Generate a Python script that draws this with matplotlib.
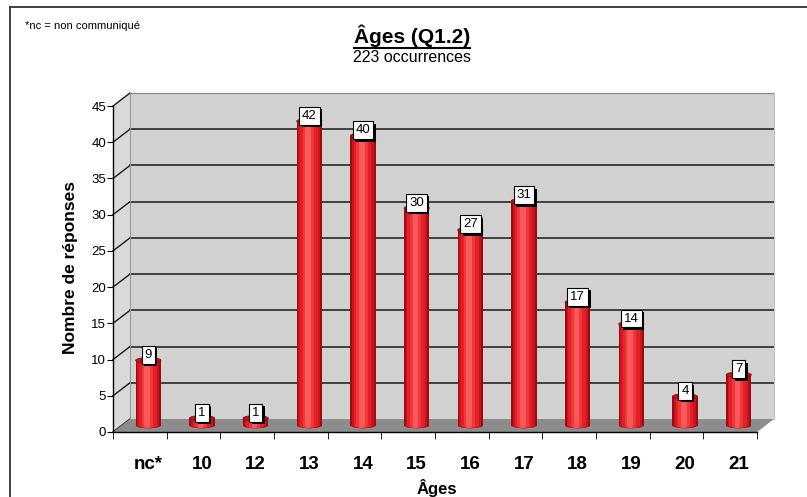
import matplotlib.pyplot as plt
from matplotlib import patheffects as pe
from matplotlib.patches import Rectangle, Ellipse, Polygon
from matplotlib.transforms import ScaledTranslation, IdentityTransform
from matplotlib.lines import Line2D

plt.rcParams['font.family'] = ['Liberation Sans', 'DejaVu Sans']

categories = ['nc*', '10', '12', '13', '14', '15', '16', '17', '18', '19', '20', '21']
counts = [9, 1, 1, 42, 40, 30, 27, 31, 17, 14, 4, 7]
y_ticks = [0, 5, 10, 15, 20, 25, 30, 35, 40, 45]

W, H = 807, 497
fig = plt.figure(figsize=(W / 100, H / 100), dpi=100)
ax = fig.add_axes([113 / W, 65 / H, 644 / W, 326 / H])
ax.set_xlim(-0.5, len(categories) - 0.5)
ax.set_ylim(0, 45)
ax.patch.set_visible(False)

# depth offsets (pixels) for the 3D look
DX, DY = 17, 13
back = ax.transData + ScaledTranslation(DX / 100, DY / 100, fig.dpi_scale_trans)
mid = ax.transData + ScaledTranslation(DX / 200, DY / 200, fig.dpi_scale_trans)

x0, x1 = -0.5, len(categories) - 0.5


def disp(x, y, off=0.0):
    px, py = ax.transData.transform((x, y))
    return (px + DX * off, py + DY * off)


# back wall
ax.add_patch(Rectangle((x0, 0), x1 - x0, 45, transform=back, facecolor='#d1d1d1',
                       edgecolor='none', zorder=0.5, clip_on=False))
# side wall
ax.add_patch(Polygon([disp(x0, 0), disp(x0, 0, 1), disp(x0, 45, 1), disp(x0, 45)],
                     closed=True, transform=IdentityTransform(), facecolor='#d9d9d9',
                     edgecolor='none', zorder=0.6, clip_on=False))
# grid lines on wall and side wall
for v in y_ticks[1:-1]:
    ax.plot([x0, x1], [v, v], transform=back, color='#1a1a1a', lw=1.1, zorder=1, clip_on=False)
ax.plot([x0, x1], [45, 45], transform=back, color='#8a8a8a', lw=0.9, zorder=1, clip_on=False)
for v in y_ticks:
    a, b = disp(x0, v), disp(x0, v, 1)
    ax.add_line(Line2D([a[0], b[0]], [a[1], b[1]], transform=IdentityTransform(),
                       color='#1a1a1a', lw=1.0, zorder=1, clip_on=False))
a, b = disp(x0, 0, 1), disp(x0, 45, 1)
ax.add_line(Line2D([a[0], b[0]], [a[1], b[1]], transform=IdentityTransform(),
                   color='#9a9a9a', lw=0.8, zorder=1, clip_on=False))
a, b = disp(x1, 0, 1), disp(x1, 45, 1)
ax.add_line(Line2D([a[0], b[0]], [a[1], b[1]], transform=IdentityTransform(),
                   color='#c4c4c4', lw=0.8, zorder=1, clip_on=False))
# floor
ax.add_patch(Polygon([disp(x0, 0), disp(x1, 0), disp(x1, 0, 1), disp(x0, 0, 1)],
                     closed=True, transform=IdentityTransform(), facecolor='#8c8c8c',
                     edgecolor='none', zorder=1.2, clip_on=False))

# cylinders
bw = 0.47
eh = 0.75
shades = [(1.00, '#9e0a10'), (0.86, '#c8141c'), (0.70, '#e32028'), (0.45, '#f0373c'), (0.22, '#f85a5c')]
for i, v in enumerate(counts):
    for frac, col in shades:
        w = bw * frac
        cx = i - 0.03 * (1 - frac)
        ax.add_patch(Rectangle((cx - w / 2, 0), w, v, transform=mid, facecolor=col,
                               edgecolor='none', zorder=3, clip_on=False))
        ax.add_patch(Ellipse((cx, 0), w, eh, transform=mid, facecolor=col,
                             edgecolor='none', zorder=2.9, clip_on=False))
    ax.add_patch(Ellipse((i, v), bw, eh, transform=mid, facecolor='#c5121a',
                         edgecolor='#8a0a0e', lw=0.6, zorder=3.5, clip_on=False))
    # value label with shadow
    ann = ax.annotate(str(v), (i, v), xycoords=mid, xytext=(0, 4), textcoords='offset points',
                      ha='center', va='center', fontsize=9.5, color='black', zorder=4.1,
                      bbox=dict(boxstyle='square,pad=0.22', facecolor='white',
                                edgecolor='black', lw=0.8))
    ann.get_bbox_patch().set_path_effects([
        pe.SimplePatchShadow(offset=(1.8, -1.8), shadow_rgbFace='black', alpha=1.0),
        pe.Normal()])

# axes and ticks
for s in ['top', 'right']:
    ax.spines[s].set_visible(False)
for s in ['left', 'bottom']:
    ax.spines[s].set_linewidth(1.0)
    ax.spines[s].set_zorder(5)
ax.set_yticks(y_ticks)
ax.tick_params(axis='y', direction='out', length=4, labelsize=9.5, pad=1)
ax.set_xticks(range(len(categories)))
ax.set_xticklabels(categories, fontweight='bold', fontsize=13.5)
ax.set_xticks([k - 0.5 for k in range(len(categories) + 1)], minor=True)
ax.tick_params(axis='x', which='major', length=0, pad=17)
ax.tick_params(axis='x', which='minor', direction='out', length=5)
for lab in ax.get_xticklabels():
    lab.set_transform(lab.get_transform() + ScaledTranslation(DX / 200, 0, fig.dpi_scale_trans))

# texts
fig.text(71 / W, 1 - 268 / H, 'Nombre de réponses', rotation=90, ha='center', va='center',
         fontsize=12.5, fontweight='bold')
fig.text(437 / W, 1 - 488 / H, 'Âges', ha='center', va='center', fontsize=12, fontweight='bold')
t = fig.text(412 / W, 1 - 36 / H, 'Âges (Q1.2)', ha='center', va='center', fontsize=15,
             fontweight='bold')
fig.text(412 / W, 1 - 57 / H, '223 occurrences', ha='center', va='center', fontsize=11.5)
fig.text(25 / W, 1 - 26 / H, '*nc = non communiqué', ha='left', va='center', fontsize=8)

fig.canvas.draw()
bb = t.get_window_extent()
fig.add_artist(Line2D([bb.x0 / W, bb.x1 / W], [(bb.y0 - 0.5) / H, (bb.y0 - 0.5) / H],
                      transform=fig.transFigure, color='black', lw=1.5))

# outer frame (top and left edges only visible)
fig.add_artist(Line2D([10 / W, 1], [1 - 7 / H, 1 - 7 / H], transform=fig.transFigure,
                      color='#333333', lw=1.3))
fig.add_artist(Line2D([10 / W, 10 / W], [0, 1 - 7 / H], transform=fig.transFigure,
                      color='#333333', lw=1.3))

fig.savefig('out.png', dpi=100)
